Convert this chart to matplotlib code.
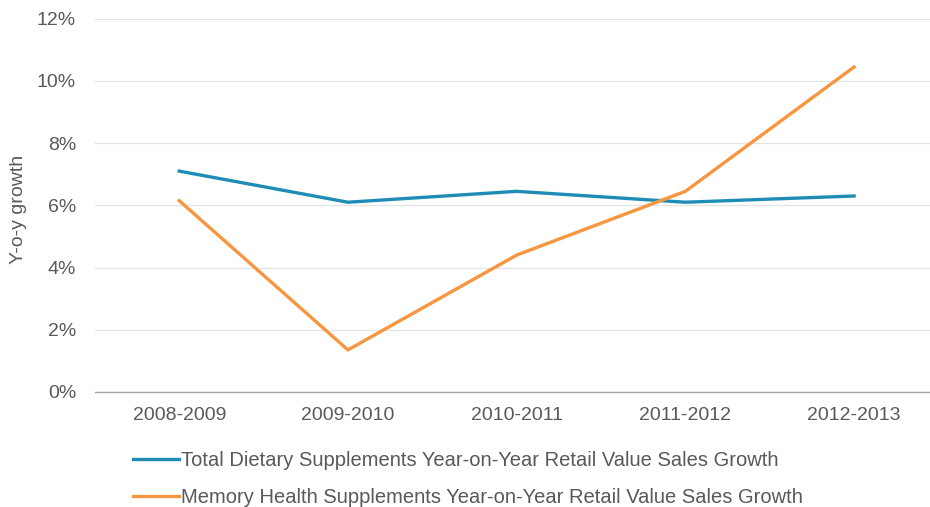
import matplotlib.pyplot as plt
from matplotlib.ticker import FuncFormatter
from matplotlib.lines import Line2D

plt.rcParams['font.family'] = ['Liberation Sans', 'DejaVu Sans']

periods = ['2008-2009', '2009-2010', '2010-2011', '2011-2012', '2012-2013']
total_growth = [7.1, 6.1, 6.45, 6.1, 6.3]
memory_growth = [6.15, 1.35, 4.4, 6.45, 10.45]
series_names = ['Total Dietary Supplements Year-on-Year Retail Value Sales Growth',
                'Memory Health Supplements Year-on-Year Retail Value Sales Growth']

blue = '#1f8cb6'
orange = '#f7963e'
grey = '#595959'
fs = 14

fig = plt.figure(figsize=(9.3, 5.07), dpi=100)
ax = fig.add_axes([0.102, 0.227, 0.898, 0.736])

x = range(len(periods))
ax.plot(x, total_growth, color=blue, lw=2.4, solid_joinstyle='round')
ax.plot(x, memory_growth, color=orange, lw=2.4, solid_joinstyle='round')

ax.set_xlim(-0.5, 4.45)
ax.set_ylim(0, 12)
ax.set_yticks(range(0, 13, 2))
ax.yaxis.set_major_formatter(FuncFormatter(lambda v, p: '%d%%' % v))
ax.set_xticks(list(x))
ax.set_xticklabels(periods)
ax.grid(axis='y', color='#e3e3e3', lw=0.9)
ax.set_axisbelow(True)
for s in ['top', 'right', 'left']:
    ax.spines[s].set_visible(False)
ax.spines['bottom'].set_color('#a6a6a6')
ax.spines['bottom'].set_linewidth(1.0)
ax.tick_params(axis='both', length=0, labelsize=fs, labelcolor=grey)
ax.tick_params(axis='x', pad=11)
ax.tick_params(axis='y', pad=13.5)
ax.set_ylabel('Y-o-y growth', fontsize=fs, color=grey)
ax.yaxis.set_label_coords(-0.081, 0.49)

# legend sits below the axes, two rows, short line handles
handles = [Line2D([], [], color=blue, lw=2.4), Line2D([], [], color=orange, lw=2.4)]
fig.legend(handles, series_names, loc='upper left', bbox_to_anchor=(0.143, 0.11),
           frameon=False, fontsize=14.5, labelcolor=grey, handlelength=2.3,
           handletextpad=0.1, labelspacing=0.9, borderpad=0, borderaxespad=0)

fig.savefig('out.png', dpi=100)
